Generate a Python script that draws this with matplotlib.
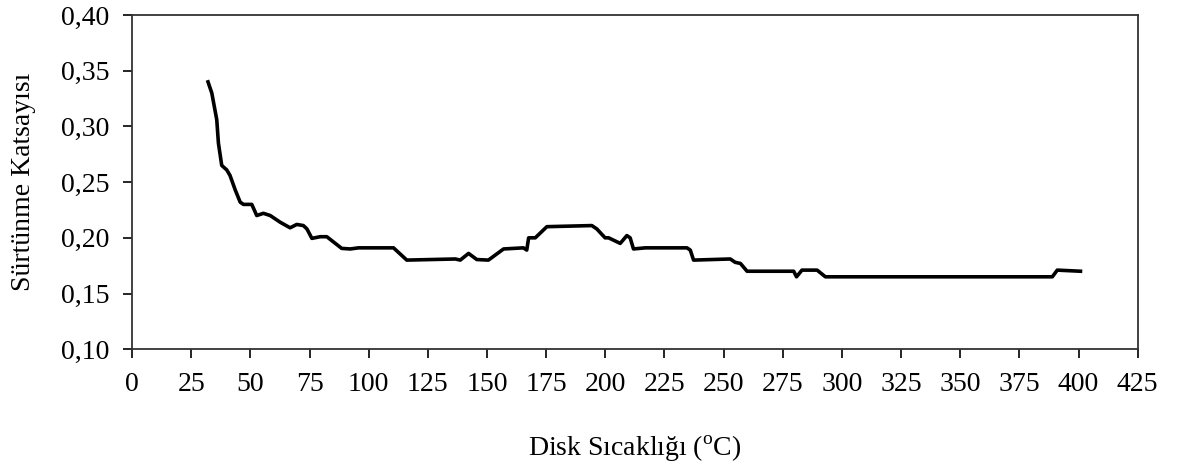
import matplotlib
matplotlib.use("Agg")
import matplotlib.pyplot as plt

plt.rcParams['font.family'] = ['Liberation Serif', 'DejaVu Serif']
plt.rcParams['mathtext.fontset'] = 'custom'
plt.rcParams['mathtext.rm'] = 'Liberation Serif'

# Disk temperature (C) and friction coefficient
temp = [32.1, 33.7, 35.8, 36.5, 37.9, 40.0, 41.4, 43.6, 45.7, 47.1, 50.6, 52.7,
        55.5, 58.4, 62.6, 66.8, 69.6, 72.4, 73.9, 76.0, 79.5, 82.3, 88.6, 92.2,
        95.7, 110.5, 116.1, 136.6, 138.7, 142.2, 145.7, 150.6, 157.0, 165.4,
        166.8, 167.6, 170.4, 175.3, 194.3, 196.4, 199.9, 201.4, 206.3, 209.1,
        210.5, 211.9, 216.9, 234.5, 235.9, 237.3, 252.8, 254.9, 257.1, 259.9,
        264.1, 279.6, 280.8, 283.1, 289.5, 293.0, 341.6, 388.9, 391.0, 400.8]
mu = [0.340, 0.330, 0.306, 0.285, 0.265, 0.261, 0.256, 0.243, 0.232, 0.230,
      0.230, 0.220, 0.222, 0.220, 0.214, 0.209, 0.212, 0.211, 0.208, 0.1995,
      0.201, 0.201, 0.1905, 0.190, 0.191, 0.191, 0.180, 0.181, 0.180, 0.186,
      0.1805, 0.180, 0.190, 0.191, 0.189, 0.200, 0.200, 0.210, 0.211, 0.208,
      0.200, 0.200, 0.195, 0.202, 0.200, 0.190, 0.191, 0.191, 0.189, 0.180,
      0.181, 0.178, 0.177, 0.170, 0.170, 0.170, 0.165, 0.171, 0.171, 0.165,
      0.165, 0.165, 0.171, 0.170]

xticks = list(range(0, 426, 25))
yticks = [0.10, 0.15, 0.20, 0.25, 0.30, 0.35, 0.40]

fig = plt.figure(figsize=(11.79, 4.70), dpi=100)
ax = fig.add_axes([0.112, 0.257, 0.853, 0.711])

ax.plot(temp, mu, color='black', lw=2.6, solid_joinstyle='round')

ax.set_xlim(0, 425)
ax.set_ylim(0.10, 0.40)
ax.set_xticks(xticks)
ax.set_yticks(yticks)
ax.set_yticklabels([f"{v:.2f}".replace('.', ',') for v in yticks])
ax.tick_params(direction='out', length=6.5, width=1.2, labelsize=20, colors='black')
ax.tick_params(axis='x', pad=10)
ax.tick_params(axis='y', pad=10)
for s in ax.spines.values():
    s.set_color('#333333')
    s.set_linewidth(1.3)

ax.set_xlabel(r'Disk Sıcaklığı ($^{\mathrm{o}}$C)', fontsize=20, labelpad=26)
ax.set_ylabel('Sürtünme Katsayısı', fontsize=20, labelpad=18)

fig.savefig('out.png', dpi=100)
